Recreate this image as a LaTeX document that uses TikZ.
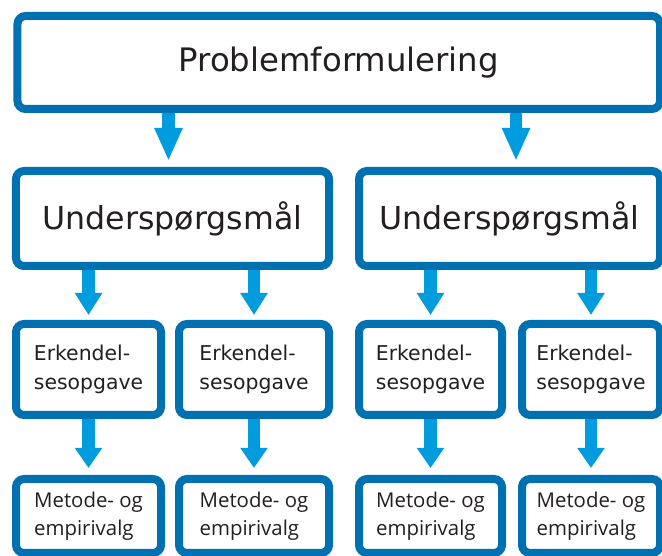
\documentclass[tikz,border=0pt]{standalone}
\usepackage{fontspec}
\setmainfont{DejaVu Sans}
\newfontfamily\valgfont{Open Sans}
\usetikzlibrary{arrows.meta}
\usetikzlibrary{positioning}
\usetikzlibrary{calc}
\definecolor{boksblaa}{RGB}{0,113,176}
\definecolor{pilblaa}{RGB}{0,156,222}
\definecolor{tekstgraa}{RGB}{35,31,32}
\tikzset{
	boks/.style={draw=boksblaa, line width=1.6mm, rounded corners=1.6mm, fill=white, text=tekstgraa, inner sep=0pt},
	hovedboks/.style={boks, minimum width=12.85cm, minimum height=1.86cm, font=\fontsize{18.4}{22}\selectfont},
	spoergboks/.style={boks, minimum height=1.9cm, font=\fontsize{18}{22}\selectfont},
	erkboks/.style={boks, minimum height=1.82cm, align=left, font=\fontsize{11.6}{16.2}\selectfont},
	valgboks/.style={boks, minimum height=1.48cm, align=left, font=\valgfont\fontsize{11.6}{16}\selectfont},
	pil/.style={draw=pilblaa, line width=2.5mm, -{Triangle[width=5.2mm, length=4.4mm]}, shorten >=1mm},
}

\begin{document}
\begin{tikzpicture}
	\useasboundingbox (0,0) rectangle (13.24,-11.12);

	\node[hovedboks] (problem) at (6.775,-1.25) {Problemformulering};

	\node[spoergboks, minimum width=6.26cm] (spoerg1) at (3.45,-4.37) {Underspørgsmål};
	\node[spoergboks, minimum width=6.02cm] (spoerg2) at (10.19,-4.37) {Underspørgsmål};

	\node[erkboks, minimum width=2.9cm] (erk1) at (1.77,-7.39) {Erkendel-\\sesopgave};
	\node[erkboks, minimum width=3cm] (erk2) at (5.08,-7.39) {Erkendel-\\sesopgave};
	\node[erkboks, minimum width=2.86cm] (erk3) at (8.61,-7.39) {Erkendel-\\sesopgave};
	\node[erkboks, minimum width=2.76cm] (erk4) at (11.82,-7.39) {Erkendel-\\sesopgave};

	\node[valgboks, minimum width=2.9cm] (valg1) at (1.77,-10.32) {Metode- og\\empirivalg};
	\node[valgboks, minimum width=3cm] (valg2) at (5.08,-10.32) {Metode- og\\empirivalg};
	\node[valgboks, minimum width=2.86cm] (valg3) at (8.61,-10.32) {Metode- og\\empirivalg};
	\node[valgboks, minimum width=2.76cm] (valg4) at (11.82,-10.32) {Metode- og\\empirivalg};

	\draw[pil, -{Triangle[width=5.2mm, length=6.6mm]}, shorten >=1.2mm] ($(problem.south -| spoerg1)+(-0.08,0)$) -- ($(spoerg1.north)+(-0.08,0)$);
	\draw[pil, -{Triangle[width=5.2mm, length=6.6mm]}, shorten >=1.2mm] ($(problem.south -| spoerg2)+(0.13,0)$) -- ($(spoerg2.north)+(0.13,0)$);

	\draw[pil] (spoerg1.south -| erk1) -- (erk1.north);
	\draw[pil] (spoerg1.south -| erk2) -- (erk2.north);
	\draw[pil] (spoerg2.south -| erk3) -- (erk3.north);
	\draw[pil] (spoerg2.south -| erk4) -- (erk4.north);

	\draw[pil, -{Triangle[width=5.2mm, length=4mm]}, shorten >=1.4mm] (erk1) -- (valg1);
	\draw[pil, -{Triangle[width=5.2mm, length=4mm]}, shorten >=1.4mm] (erk2) -- (valg2);
	\draw[pil, -{Triangle[width=5.2mm, length=4mm]}, shorten >=1.4mm] (erk3) -- (valg3);
	\draw[pil, -{Triangle[width=5.2mm, length=4mm]}, shorten >=1.4mm] (erk4) -- (valg4);
\end{tikzpicture}
\end{document}
